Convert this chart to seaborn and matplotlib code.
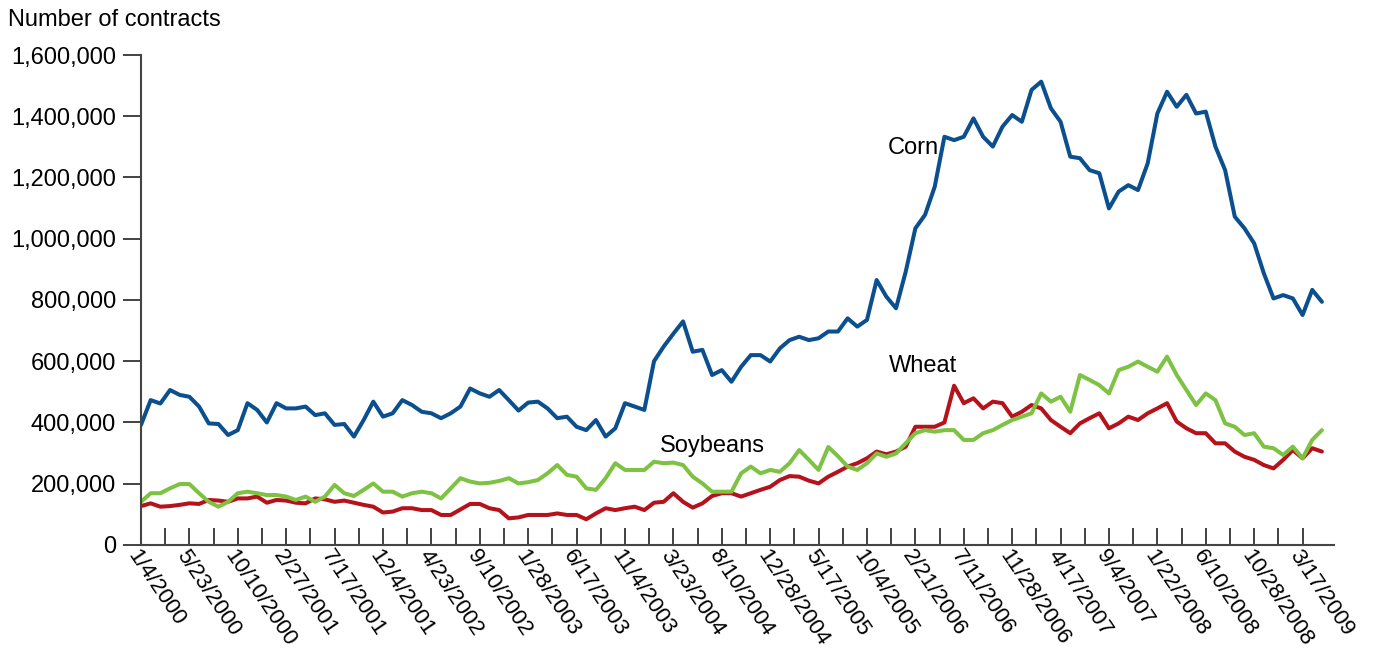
import pandas as pd
import numpy as np
import seaborn as sns
import matplotlib.pyplot as plt
import matplotlib.ticker as mticker

# Open interest, sampled every 4 weeks from 1/4/2000 (values in thousands of contracts)
start = pd.Timestamp("2000-01-04")
corn = [392, 473, 462, 506, 490, 484, 452, 397, 395, 359, 375, 463, 441, 400, 463, 446, 446, 452, 424, 430,
        392, 395, 354, 408, 468, 419, 430, 473, 457, 435, 430, 414, 430, 452, 511, 495, 484, 506, 473, 439,
        465, 468, 446, 414, 419, 386, 375, 408, 354, 381, 463, 452, 441, 600, 648, 690, 730, 631, 637, 555, 571,
        533, 582, 620, 620, 599, 642, 669, 680, 669, 675, 697, 697, 740, 713, 735, 865, 811, 773, 892, 1034, 1078,
        1170, 1333, 1322, 1333, 1393, 1333, 1301, 1366, 1404, 1382, 1486, 1513, 1426, 1382, 1268, 1263, 1224, 1214, 1099, 1154,
        1175, 1159, 1246, 1409, 1480, 1431, 1470, 1409, 1415, 1301, 1224, 1072, 1034, 985, 887, 805, 816, 805, 751, 833, 794]
soybeans = [141, 169, 169, 185, 199, 199, 169, 141, 125, 141, 169, 174, 169, 163, 163, 158, 147, 158, 141, 158,
            196, 169, 160, 180, 201, 174, 174, 158, 169, 174, 169, 152, 185, 218, 207, 201, 203, 209, 218, 201,
            205, 212, 234, 261, 229, 223, 185, 180, 218, 267, 245, 245, 245, 272, 267, 269, 261, 223, 201, 174, 174,
            174, 234, 256, 234, 245, 239, 267, 310, 278, 245, 320, 290, 256, 245, 267, 299, 288, 299, 332, 365, 375,
            370, 375, 375, 343, 343, 365, 375, 392, 408, 419, 430, 495, 468, 484, 435, 555, 539, 522, 495, 571,
            582, 599, 582, 566, 615, 555, 506, 457, 495, 473, 397, 386, 359, 365, 321, 316, 294, 321, 283, 343, 375]
wheat = [127, 136, 125, 127, 131, 136, 134, 147, 145, 141, 152, 152, 158, 138, 147, 145, 138, 136, 152, 149,
         141, 145, 138, 131, 125, 106, 109, 120, 120, 114, 114, 98, 98, 116, 134, 134, 120, 114, 87, 90,
         98, 98, 98, 103, 98, 98, 84, 103, 120, 114, 120, 125, 114, 138, 141, 169, 141, 122, 136, 160, 169,
         169, 158, 169, 180, 190, 212, 225, 223, 210, 201, 223, 239, 256, 267, 283, 305, 296, 305, 321, 386, 386,
         386, 400, 520, 463, 479, 446, 468, 463, 419, 435, 457, 446, 408, 386, 365, 397, 414, 430, 381, 397,
         419, 408, 430, 446, 463, 403, 381, 365, 365, 332, 332, 305, 288, 278, 261, 250, 278, 310, 283, 316, 305]

dates = pd.date_range(start, periods=len(corn), freq="28D")
df = pd.DataFrame({"date": dates, "Corn": corn, "Soybeans": soybeans, "Wheat": wheat})
long = df.melt(id_vars="date", var_name="crop", value_name="contracts")
long["contracts"] = long["contracts"] * 1000

colors = {"Corn": "#0b4f8f", "Soybeans": "#7dc242", "Wheat": "#b5121b"}

sns.set_style("white")
plt.rcParams["font.family"] = ["Liberation Sans", "DejaVu Sans"]
plt.rcParams["text.color"] = "black"
plt.rcParams["xtick.color"] = "black"
plt.rcParams["ytick.color"] = "black"

fig = plt.figure(figsize=(13.96, 6.54), dpi=100)
ax = fig.add_axes([0.101, 0.1667, 0.8546, 0.7492])

sns.lineplot(data=long, x="date", y="contracts", hue="crop", palette=colors,
             hue_order=["Wheat", "Soybeans", "Corn"], linewidth=2.9, legend=False, ax=ax)

ax.set_ylim(0, 1600000)
ax.set_xlim(start, start + pd.Timedelta(weeks=493))
ax.yaxis.set_major_locator(mticker.MultipleLocator(200000))
ax.yaxis.set_major_formatter(mticker.FuncFormatter(lambda v, p: f"{int(v):,}"))

tick_dates = pd.date_range(start, periods=49, freq="70D")
ax.set_xticks(tick_dates)
ax.set_xticklabels([f"{d.month}/{d.day}/{d.year}" if i % 2 == 0 else "" for i, d in enumerate(tick_dates)],
                   rotation=-56, ha="left", va="top", rotation_mode="anchor")

ax.tick_params(axis="x", direction="in", length=12, width=1.2, color="#222222", labelsize=16, pad=1)
ax.tick_params(axis="y", direction="out", length=13, width=1.2, color="#222222", labelsize=17, pad=5)
ax.tick_params(bottom=True, left=True)

for s in ["top", "right"]:
    ax.spines[s].set_visible(False)
for s in ["left", "bottom"]:
    ax.spines[s].set_color("#444444")
    ax.spines[s].set_linewidth(1.5)

ax.set_xlabel("")
ax.set_ylabel("")

fig.text(0.006, 0.97, "Number of contracts", fontsize=17, ha="left", va="center")

ax.text(start + pd.Timedelta(weeks=319), 1296000, "Corn", fontsize=17, ha="center", va="center")
ax.text(start + pd.Timedelta(weeks=323), 584000, "Wheat", fontsize=17, ha="center", va="center")
ax.text(start + pd.Timedelta(weeks=236), 323000, "Soybeans", fontsize=17, ha="center", va="center")

plt.savefig("out.png", dpi=100)
